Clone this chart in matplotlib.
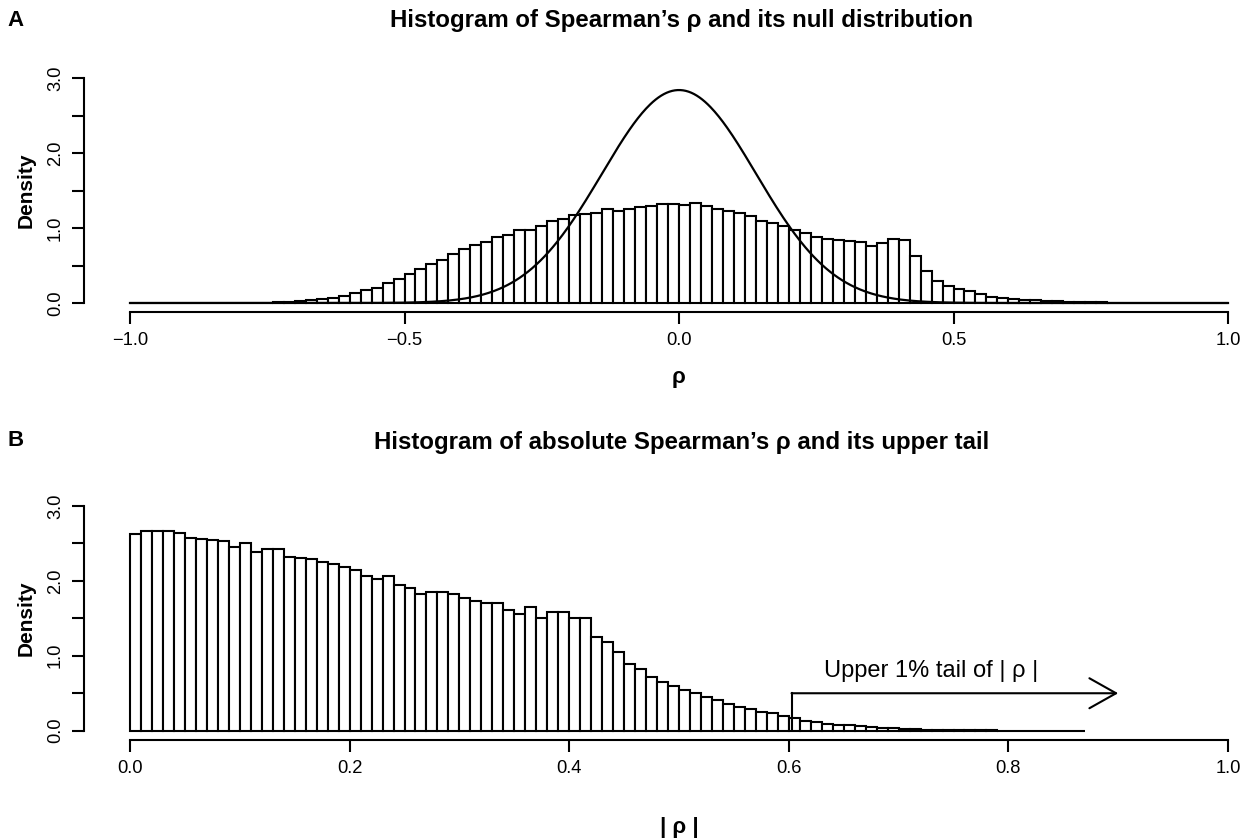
import numpy as np
import matplotlib
matplotlib.use('Agg')
import matplotlib.pyplot as plt

plt.rcParams['font.family'] = ['Liberation Sans', 'DejaVu Sans']

# panel A: histogram of rho, bins of 0.02 from -1 to 1
rho_breaks = np.round(np.arange(-1.0, 1.0001, 0.02), 2)
rho_density = [
    0, 0, 0, 0, 0, 0, 0, 0, 0.001, 0.002,
    0.003, 0.004, 0.006, 0.009, 0.014, 0.024, 0.038, 0.052, 0.070, 0.092,
    0.136, 0.168, 0.205, 0.272, 0.326, 0.392, 0.455, 0.522, 0.578, 0.647,
    0.72, 0.771, 0.807, 0.876, 0.907, 0.975, 0.975, 1.032, 1.094, 1.122,
    1.171, 1.187, 1.198, 1.249, 1.229, 1.251, 1.285, 1.300, 1.315, 1.320,
    1.306, 1.333, 1.296, 1.251, 1.227, 1.202, 1.165, 1.095, 1.064, 1.022,
    0.971, 0.931, 0.882, 0.851, 0.842, 0.833, 0.815, 0.760, 0.800, 0.848,
    0.840, 0.630, 0.430, 0.296, 0.225, 0.187, 0.156, 0.120, 0.084, 0.071,
    0.053, 0.044, 0.036, 0.027, 0.022, 0.018, 0.013, 0.010, 0.008, 0.005,
    0.003, 0.002, 0.001, 0, 0, 0, 0, 0, 0, 0,
]
null_mean = 0.0
null_sd = 0.1405

# panel B: histogram of |rho|, bins of 0.01 from 0 to 0.87
abs_breaks = np.round(np.arange(0.0, 0.8701, 0.01), 2)
abs_density = [
    2.62, 2.66, 2.67, 2.66, 2.64, 2.57, 2.56, 2.54, 2.53, 2.45,
    2.50, 2.39, 2.42, 2.42, 2.32, 2.31, 2.29, 2.25, 2.23, 2.18,
    2.15, 2.06, 2.02, 2.07, 1.95, 1.91, 1.83, 1.85, 1.85, 1.82,
    1.77, 1.73, 1.71, 1.70, 1.61, 1.56, 1.65, 1.51, 1.58, 1.58,
    1.50, 1.50, 1.25, 1.19, 1.05, 0.89, 0.82, 0.72, 0.65, 0.60,
    0.55, 0.50, 0.45, 0.41, 0.36, 0.32, 0.29, 0.25, 0.23, 0.20,
    0.17, 0.13, 0.12, 0.09, 0.08, 0.07, 0.06, 0.05, 0.04, 0.03,
    0.025, 0.02, 0.016, 0.012, 0.01, 0.008, 0.006, 0.004, 0.003, 0.002,
    0.002, 0.001, 0.001, 0.001, 0, 0, 0,
]
tail_cut = 0.6025
arrow_end = 0.9
arrow_y = 0.5

W, H = 1247, 839
fig = plt.figure(figsize=(W / 100, H / 100), dpi=100)

lw = 1.5
tick_size = 13.2


def style_axes(ax, xticks, xlabels, xlo, xhi):
    ax.patch.set_visible(False)
    for s in ['top', 'right']:
        ax.spines[s].set_visible(False)
    ax.spines['left'].set_position(('outward', 33))
    ax.spines['left'].set_bounds(0, 3)
    ax.spines['bottom'].set_position(('outward', 6.5))
    ax.spines['bottom'].set_bounds(xlo, xhi)
    for s in ['left', 'bottom']:
        ax.spines[s].set_linewidth(lw)
    ax.set_xticks(xticks)
    ax.set_xticklabels(xlabels)
    ax.set_yticks([0, 0.5, 1, 1.5, 2, 2.5, 3])
    ax.set_yticklabels(['0.0', '', '1.0', '', '2.0', '', '3.0'])
    ax.tick_params(direction='out', length=8.5, width=lw, labelsize=tick_size, pad=6)
    for t in ax.get_yticklabels():
        t.set_rotation(90)
        t.set_va('center')
    ax.set_ylim(0, 3)
    ax.set_ylabel('Density', fontsize=15, fontweight='bold', labelpad=8)


# ---- panel A
ax1 = fig.add_axes([130 / W, (H - 303) / H, 1098 / W, 225 / H])
ax1.bar(rho_breaks[:-1], rho_density, width=0.02, align='edge',
        facecolor='white', edgecolor='black', linewidth=lw, clip_on=False)
xs = np.linspace(-1, 1, 801)
null_pdf = np.exp(-0.5 * ((xs - null_mean) / null_sd) ** 2) / (null_sd * np.sqrt(2 * np.pi))
ax1.plot(xs, null_pdf, color='black', lw=1.6, clip_on=False)
ax1.set_xlim(-1, 1)
style_axes(ax1, [-1, -0.5, 0, 0.5, 1], ['\u22121.0', '\u22120.5', '0.0', '0.5', '1.0'], -1, 1)

# ---- panel B
ax2 = fig.add_axes([130 / W, (H - 730.7) / H, 1098 / W, 224.7 / H])
ax2.bar(abs_breaks[:-1], abs_density, width=0.01, align='edge',
        facecolor='white', edgecolor='black', linewidth=lw, clip_on=False)
ax2.set_xlim(0, 1)
style_axes(ax2, [0, 0.2, 0.4, 0.6, 0.8, 1.0], ['0.0', '0.2', '0.4', '0.6', '0.8', '1.0'], 0, 1)
ax2.plot([tail_cut, tail_cut], [0, arrow_y], color='black', lw=lw)
ax2.annotate('', xy=(arrow_end, arrow_y), xytext=(tail_cut, arrow_y),
             arrowprops=dict(arrowstyle='->,head_length=0.96,head_width=0.54',
                             mutation_scale=20, lw=lw, color='black',
                             shrinkA=0, shrinkB=0))
ax2.text(0.73, 0.72, 'Upper 1% tail of | \u03c1 |', ha='center', va='baseline', fontsize=17)

# titles and labels
fig.text(682 / W, 1 - 21 / H, 'Histogram of Spearman\u2019s \u03c1 and its null distribution',
         ha='center', va='center', fontsize=17.3, fontweight='bold')
fig.text(682 / W, 1 - 442 / H, 'Histogram of absolute Spearman\u2019s \u03c1 and its upper tail',
         ha='center', va='center', fontsize=17.3, fontweight='bold')
fig.text(16 / W, 1 - 20 / H, 'A', ha='center', va='center', fontsize=16, fontweight='bold')
fig.text(16 / W, 1 - 440 / H, 'B', ha='center', va='center', fontsize=16, fontweight='bold')
fig.text(679 / W, 1 - 378 / H, '\u03c1', ha='center', va='center', fontsize=16, fontweight='bold')
fig.text(679 / W, 1 - 827 / H, '| \u03c1 |', ha='center', va='center', fontsize=16, fontweight='bold')

fig.savefig('out.png', dpi=100)
